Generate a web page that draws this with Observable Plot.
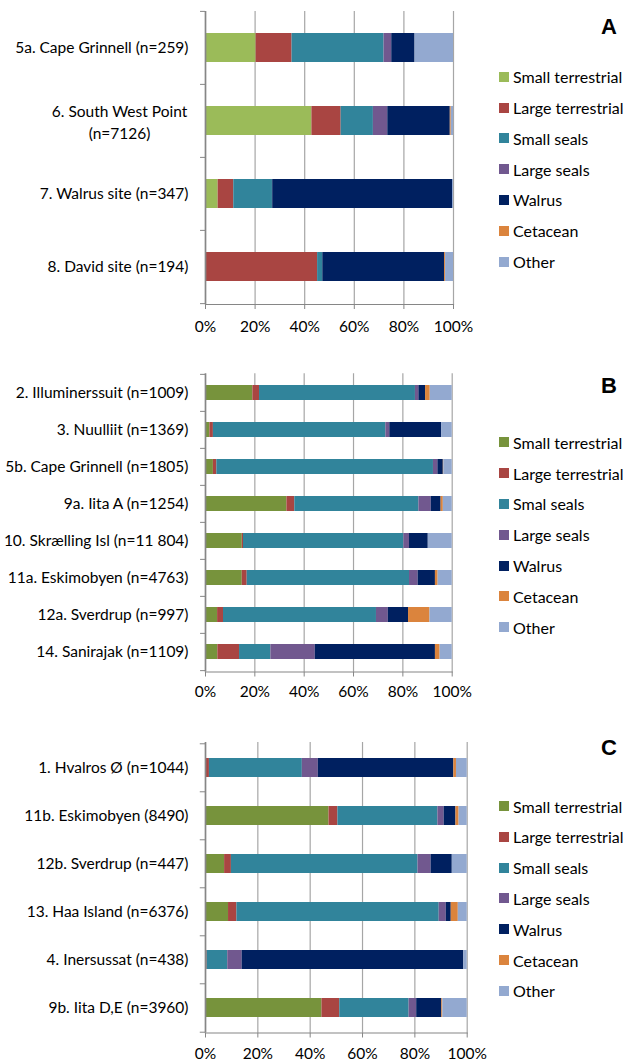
<!DOCTYPE html>
<html><head><meta charset="utf-8">
<script src="https://cdn.jsdelivr.net/npm/d3@7"></script>
<script src="https://cdn.jsdelivr.net/npm/@observablehq/plot@0.6"></script>
<style>
body{margin:0;background:#fff;}
#root{position:relative;width:624px;height:1062px;overflow:hidden;font-family:Lato,sans-serif;color:#000;}
.panel{position:absolute;left:0;}
.item{position:absolute;left:499px;height:20px;display:flex;align-items:center;white-space:nowrap;font-size:16px;}
.sw{width:10px;height:10px;margin-right:4px;flex:none;}
.letter{position:absolute;font:bold 22px "Liberation Sans",Arial,sans-serif;}
</style></head><body><div id="root"></div>
<script>
// ---- data ----
const seriesKeys = ["Small terrestrial","Large terrestrial","Small seals","Large seals","Walrus","Cetacean","Other"];
const legendA = ["Small terrestrial","Large terrestrial","Small seals","Large seals","Walrus","Cetacean","Other"];
const legendB = ["Small terrestrial","Large terrestrial","Smal seals","Large seals","Walrus","Cetacean","Other"];
const legendC = ["Small terrestrial","Large terrestrial","Small seals","Large seals","Walrus","Cetacean","Other"];
const colorsA = ["#9bbb59","#a94542","#31849b","#71588f","#002060","#db843d","#93a9d0"];
const colorsBC = ["#77933c","#a94542","#31849b","#71588f","#002060","#db843d","#93a9d0"];

const sitesA = ["5a. Cape Grinnell (n=259)","6. South West Point\n(n=7126)","7. Walrus site (n=347)","8. David site (n=194)"];
const valuesA = [
  [20.4,14.5,37.1,3.1,9.4,0,15.5],
  [42.9,11.8,13.0,5.8,25.2,0.4,0.9],
  [5.1,6.3,15.6,0.1,72.5,0,0.4],
  [0,45.2,2.1,0,49.1,0.4,3.2]
];
const sitesB = ["2. Illuminerssuit (n=1009)","3. Nuulliit (n=1369)","5b. Cape Grinnell (n=1805)","9a. Iita A (n=1254)","10. Skrælling Isl (n=11 804)","11a. Eskimobyen (n=4763)","12a. Sverdrup (n=997)","14. Sanirajak (n=1109)"];
const valuesB = [
  [19.2,2.7,63.2,1.4,2.7,1.9,8.9],
  [1.8,1.4,69.9,1.6,21.0,0,4.3],
  [3.2,1.4,87.8,1.8,2.2,0.2,3.4],
  [33.0,3.2,50.3,5.0,4.0,0.9,3.6],
  [14.9,0.5,65.0,2.3,7.6,0,9.7],
  [14.9,2.0,65.8,3.5,7.0,1.1,5.7],
  [4.9,2.4,62.0,4.8,8.2,8.7,9.0],
  [5.0,8.8,12.7,18.0,48.7,1.9,4.9]
];
const sitesC = ["1. Hvalros Ø (n=1044)","11b. Eskimobyen (8490)","12b. Sverdrup (n=447)","13. Haa Island (n=6376)","4. Inersussat (n=438)","9b. Iita D,E (n=3960)"];
const valuesC = [
  [0,1.5,35.5,6.1,51.8,1.0,4.1],
  [47.2,3.4,38.2,2.4,4.5,1.2,3.1],
  [7.3,2.6,71.3,5.0,8.1,0,5.7],
  [8.8,3.2,77.3,2.7,1.9,2.7,3.4],
  [0,0.6,7.9,5.5,84.7,0,1.3],
  [44.5,6.8,26.5,2.9,9.6,0.4,9.3]
];
const xTicks = [0,20,40,60,80,100];
const panelLetters = ["A","B","C"];

// ---- drawing ----
const root = document.getElementById("root");
function panel(sites, values, colors, legend, letter, cfg) {
  const rows = sites.flatMap((s,i) => seriesKeys.map((k,j) => ({site:s, series:k, value:values[i][j]})));
  const step = (cfg.height - cfg.marginTop - cfg.marginBottom) / sites.length;
  const axisGrey = "#868686";
  const chart = Plot.plot({
    width:624, height:cfg.height,
    marginLeft:205, marginRight:cfg.marginRight, marginTop:cfg.marginTop, marginBottom:cfg.marginBottom,
    style:{fontFamily:"Lato, sans-serif", fontSize:"15.5px", color:"#000", background:"transparent", overflow:"visible"},
    x:{domain:[0,100], label:null},
    y:{domain:sites, paddingInner:0.6, paddingOuter:0.3, label:null},
    color:{domain:seriesKeys, range:colors},
    marks:[
      Plot.ruleX(xTicks.slice(1), {stroke:"#a6a6a6", strokeWidth:1.2}),
      Plot.barX(rows, Plot.stackX({x:"value", y:"site", fill:"series", order:seriesKeys})),
      Plot.ruleX([0], {stroke:axisGrey, strokeWidth:1.7}),
      Plot.ruleY(sites, {y:d=>d, x1:-2, x2:0, dy:-step/2, stroke:axisGrey}),
      Plot.ruleY(sites.slice(-1), {y:d=>d, x1:-2, x2:0, dy:step/2, stroke:axisGrey}),
      Plot.frame({anchor:"bottom", stroke:axisGrey, strokeWidth:1.2}),
      Plot.axisX({ticks:xTicks, tickFormat:d=>d+"%", tickSize:5, tickPadding:cfg.xPad, stroke:axisGrey, fill:"#000", fontSize:15.5, label:null}),
      Plot.axisY({tickSize:0, tickPadding:17, tickFormat:d=>d.includes("\n")?"":d, fill:"#000", fontSize:15.5, label:null}),
      Plot.text(sites.filter(d=>d.includes("\n")), {y:d=>d, x:0, text:d=>d, textAnchor:"middle", dx:-86, lineHeight:1.4, fontSize:15.5, fill:"#000"})
    ]
  });
  const wrap = document.createElement("div");
  wrap.className = "panel"; wrap.style.top = cfg.top + "px";
  wrap.appendChild(chart);
  root.appendChild(wrap);
  legend.forEach((name,i) => {
    const it = document.createElement("div");
    it.className = "item";
    it.style.top = (cfg.legendTop + i*30.8 - 10) + "px";
    it.innerHTML = `<span class="sw" style="background:${colors[i]}"></span><span>${name}</span>`;
    root.appendChild(it);
  });
  const L = document.createElement("div");
  L.className = "letter"; L.textContent = letter;
  L.style.right = "7px"; L.style.top = cfg.letterTop + "px";
  root.appendChild(L);
}
panel(sitesA, valuesA, colorsA, legendA, panelLetters[0], {top:0, height:340, marginTop:11, marginBottom:36, marginRight:171, xPad:11, legendTop:76.7, letterTop:14});
panel(sitesB, valuesB, colorsBC, legendB, panelLetters[1], {top:360, height:345, marginTop:13.3, marginBottom:33.5, marginRight:172.3, xPad:9, legendTop:442.3, letterTop:373});
panel(sitesC, valuesC, colorsBC, legendC, panelLetters[2], {top:720, height:342, marginTop:22, marginBottom:29.5, marginRight:157.3, xPad:10, legendTop:806, letterTop:735});
</script></body></html>
